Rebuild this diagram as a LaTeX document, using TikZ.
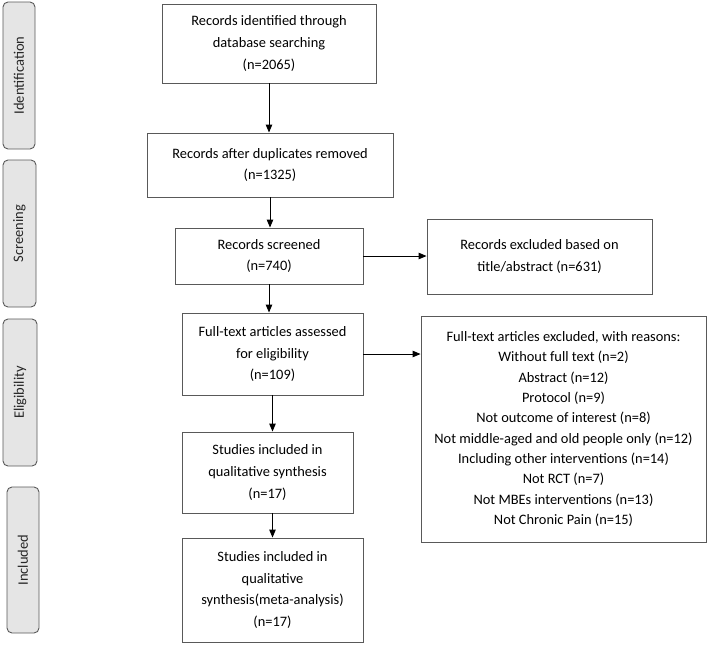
\documentclass[tikz,border=0pt]{standalone}
\usepackage{fontspec}
\setmainfont{Carlito}
\usetikzlibrary{arrows.meta}
\begin{document}
\begin{tikzpicture}[x=1pt,y=-1pt,
  box/.style={draw=black!65, line width=0.9pt, fill=white, align=center, inner sep=0pt,
    font=\fontsize{14.4}{21.7}\selectfont, text=black,
    execute at begin node={\rule{0pt}{15pt}}},
  side/.style={draw=black!65, line width=0.9pt, fill=black!10, rounded corners=5pt,
    inner sep=0pt, rotate=90, font=\fontsize{14.5}{17}\selectfont, text=black!85},
  arr/.style={-{Triangle[length=8pt,width=6.5pt]}, line width=1pt, black}]
\useasboundingbox (0,0) rectangle (708,653);
% side labels (rotated: minimum width = vertical extent)
\node[side, minimum width=147, minimum height=32] (s1) at (19,75.5) {Identification};
\node[side, minimum width=147, minimum height=33] (s2) at (19.5,233.5) {Screening};
\node[side, minimum width=147, minimum height=34] (s3) at (20,392.5) {Eligibility};
\node[side, minimum width=146, minimum height=32] (s4) at (23,560) {Included};
% main boxes
\node[box, minimum width=214, minimum height=79] (b1) at (269,43.5)
  {Records identified through\\database searching\\(n=2065)};
\node[box, minimum width=246, minimum height=64] (b2) at (270,165)
  {Records after duplicates removed\\(n=1325)};
\node[box, minimum width=188, minimum height=56] (b3) at (269,256)
  {Records screened\\(n=740)};
\node[box, minimum width=225, minimum height=75] (e1) at (539.5,256.5)
  {Records excluded based on\\title/abstract (n=631)};
\node[box, minimum width=181, minimum height=82] (b4) at (272.5,354)
  {Full-text articles assessed\\for eligibility\\(n=109)};
\node[box, minimum width=285, minimum height=226, font=\fontsize{14.4}{20.3}\selectfont,
  execute at begin node={\rule{0pt}{21pt}}] (e2) at (563.5,429)
  {Full-text articles excluded, with reasons:\\Without full text (n=2)\\Abstract (n=12)\\Protocol (n=9)\\Not outcome of interest (n=8)\\Not middle-aged and old people only (n=12)\\Including other interventions (n=14)\\Not RCT (n=7)\\Not MBEs interventions (n=13)\\Not Chronic Pain (n=15)};
\node[box, minimum width=171, minimum height=81] (b5) at (267.5,472.5)
  {Studies included in\\qualitative synthesis\\(n=17)};
\node[box, minimum width=181, minimum height=104] (b6) at (272.5,590)
  {Studies included in\\qualitative\\synthesis(meta-analysis)\\(n=17)};
% connectors
\draw[arr] (b1.south) -- (b1.south |- b2.north);
\draw[arr] (b2.south) -- (b2.south |- b3.north);
\draw[arr] (b3.south) -- (b3.south |- b4.north);
\draw[arr] (b4.south) -- (b4.south |- b5.north);
\draw[arr] (b6.north |- b5.south) -- (b6.north);
\draw[arr] (b3.east) -- (b3.east -| e1.west);
\draw[arr] (b4.east) -- (b4.east -| e2.west);
\end{tikzpicture}
\end{document}
